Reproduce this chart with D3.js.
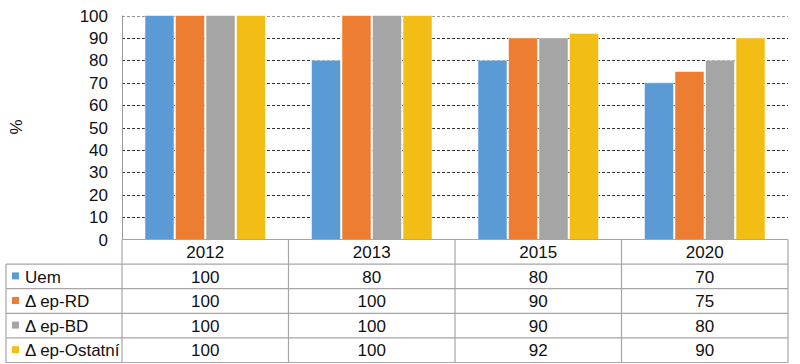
<!DOCTYPE html>
<html>
<head>
<meta charset="utf-8">
<script src="https://d3js.org/d3.v7.min.js"></script>
<style>
  body { margin: 0; background: #fff; }
  text { font-family: Arial, "Liberation Sans", sans-serif; fill: #111; }
</style>
</head>
<body>
<script>
// data
var years = ["2012", "2013", "2015", "2020"];
var seriesNames = ["Uem", "\u0394 ep-RD", "\u0394 ep-BD", "\u0394 ep-Ostatn\u00ed"];
var uem = [100, 80, 80, 70];
var epRD = [100, 100, 90, 75];
var epBD = [100, 100, 90, 80];
var epOst = [100, 100, 92, 90];
var yTicks = [0, 10, 20, 30, 40, 50, 60, 70, 80, 90, 100];
var colors = ["#5B9BD5", "#ED7D31", "#A5A5A5", "#F2BE15"];

var values = [uem, epRD, epBD, epOst];

var W = 800, H = 364;
var plotLeft = 122, plotRight = 788, plotTop = 15.5, zeroY = 239.5;
var rowH = 24.6;
var tableLeft = 6;

var svg = d3.select("body").append("svg")
  .attr("width", W).attr("height", H);

var x = d3.scaleBand().domain(years).range([plotLeft, plotRight]);
var x1 = d3.scaleBand().domain(d3.range(4)).range([23, x.bandwidth() - 23]).paddingInner(0.05);
var y = d3.scaleLinear().domain([0, 100]).range([zeroY, plotTop]);

// gridlines
svg.append("g").selectAll("line")
  .data(yTicks.filter(function(d) { return d > 0; }))
  .join("line")
  .attr("x1", plotLeft).attr("x2", plotRight)
  .attr("y1", function(d) { return Math.round(y(d)) + 0.5; })
  .attr("y2", function(d) { return Math.round(y(d)) + 0.5; })
  .attr("stroke", function(d) { return d === 100 ? "#999" : "#333"; })
  .attr("stroke-width", 1)
  .attr("stroke-dasharray", "3,2");

// bars
var groups = svg.append("g").selectAll("g")
  .data(years).join("g")
  .attr("transform", function(d) { return "translate(" + x(d) + ",0)"; });

groups.selectAll("rect")
  .data(function(d, i) { return values.map(function(v, s) { return { s: s, v: v[i] }; }); })
  .join("rect")
  .attr("x", function(d) { return x1(d.s); })
  .attr("width", x1.bandwidth())
  .attr("y", function(d) { return y(d.v); })
  .attr("height", function(d) { return zeroY - y(d.v); })
  .attr("fill", function(d) { return colors[d.s]; })
  .attr("stroke", "rgba(255,255,255,0.5)")
  .attr("stroke-width", 1);

// y axis labels
svg.append("g").selectAll("text")
  .data(yTicks).join("text")
  .attr("x", 108)
  .attr("y", function(d) { return y(d); })
  .attr("dy", "0.36em")
  .attr("text-anchor", "end")
  .style("font-size", "17px")
  .text(function(d) { return d; });

svg.append("text")
  .attr("transform", "translate(22,127) rotate(-90)")
  .attr("text-anchor", "middle")
  .style("font-size", "17px")
  .text("%");

// plot left border
svg.append("line")
  .attr("x1", plotLeft + 0.5).attr("x2", plotLeft + 0.5)
  .attr("y1", plotTop).attr("y2", zeroY)
  .attr("stroke", "#999");

// data table
var tbl = svg.append("g").attr("stroke", "#A6A6A6").attr("stroke-width", 1.2);
var tableBottom = zeroY + rowH * 5;

// horizontal lines
tbl.append("line").attr("x1", plotLeft).attr("x2", plotRight).attr("y1", zeroY).attr("y2", zeroY);
d3.range(1, 6).forEach(function(r) {
  var yy = zeroY + rowH * r;
  tbl.append("line").attr("x1", tableLeft).attr("x2", plotRight).attr("y1", yy).attr("y2", yy);
});
// vertical lines
tbl.append("line").attr("x1", tableLeft).attr("x2", tableLeft)
  .attr("y1", zeroY + rowH).attr("y2", tableBottom);
years.forEach(function(yr) {
  tbl.append("line").attr("x1", x(yr)).attr("x2", x(yr))
    .attr("y1", zeroY).attr("y2", tableBottom);
});
tbl.append("line").attr("x1", plotRight).attr("x2", plotRight)
  .attr("y1", zeroY).attr("y2", tableBottom);

// header
svg.append("g").selectAll("text")
  .data(years).join("text")
  .attr("x", function(d) { return x(d) + x.bandwidth() / 2; })
  .attr("y", zeroY + rowH / 2)
  .attr("dy", "0.36em")
  .attr("text-anchor", "middle")
  .style("font-size", "17px")
  .text(function(d) { return d; });

// rows
seriesNames.forEach(function(name, s) {
  var cy = zeroY + rowH * (s + 1) + rowH / 2;
  svg.append("rect")
    .attr("x", 12).attr("y", cy - 4).attr("width", 7).attr("height", 7)
    .attr("fill", colors[s]);
  svg.append("text")
    .attr("x", 25).attr("y", cy).attr("dy", "0.36em")
    .style("font-size", "17px")
    .text(name);
  svg.append("g").selectAll("text")
    .data(values[s]).join("text")
    .attr("x", function(d, i) { return x(years[i]) + x.bandwidth() / 2; })
    .attr("y", cy).attr("dy", "0.36em")
    .attr("text-anchor", "middle")
    .style("font-size", "17px")
    .text(function(d) { return d; });
});
</script>
</body>
</html>
